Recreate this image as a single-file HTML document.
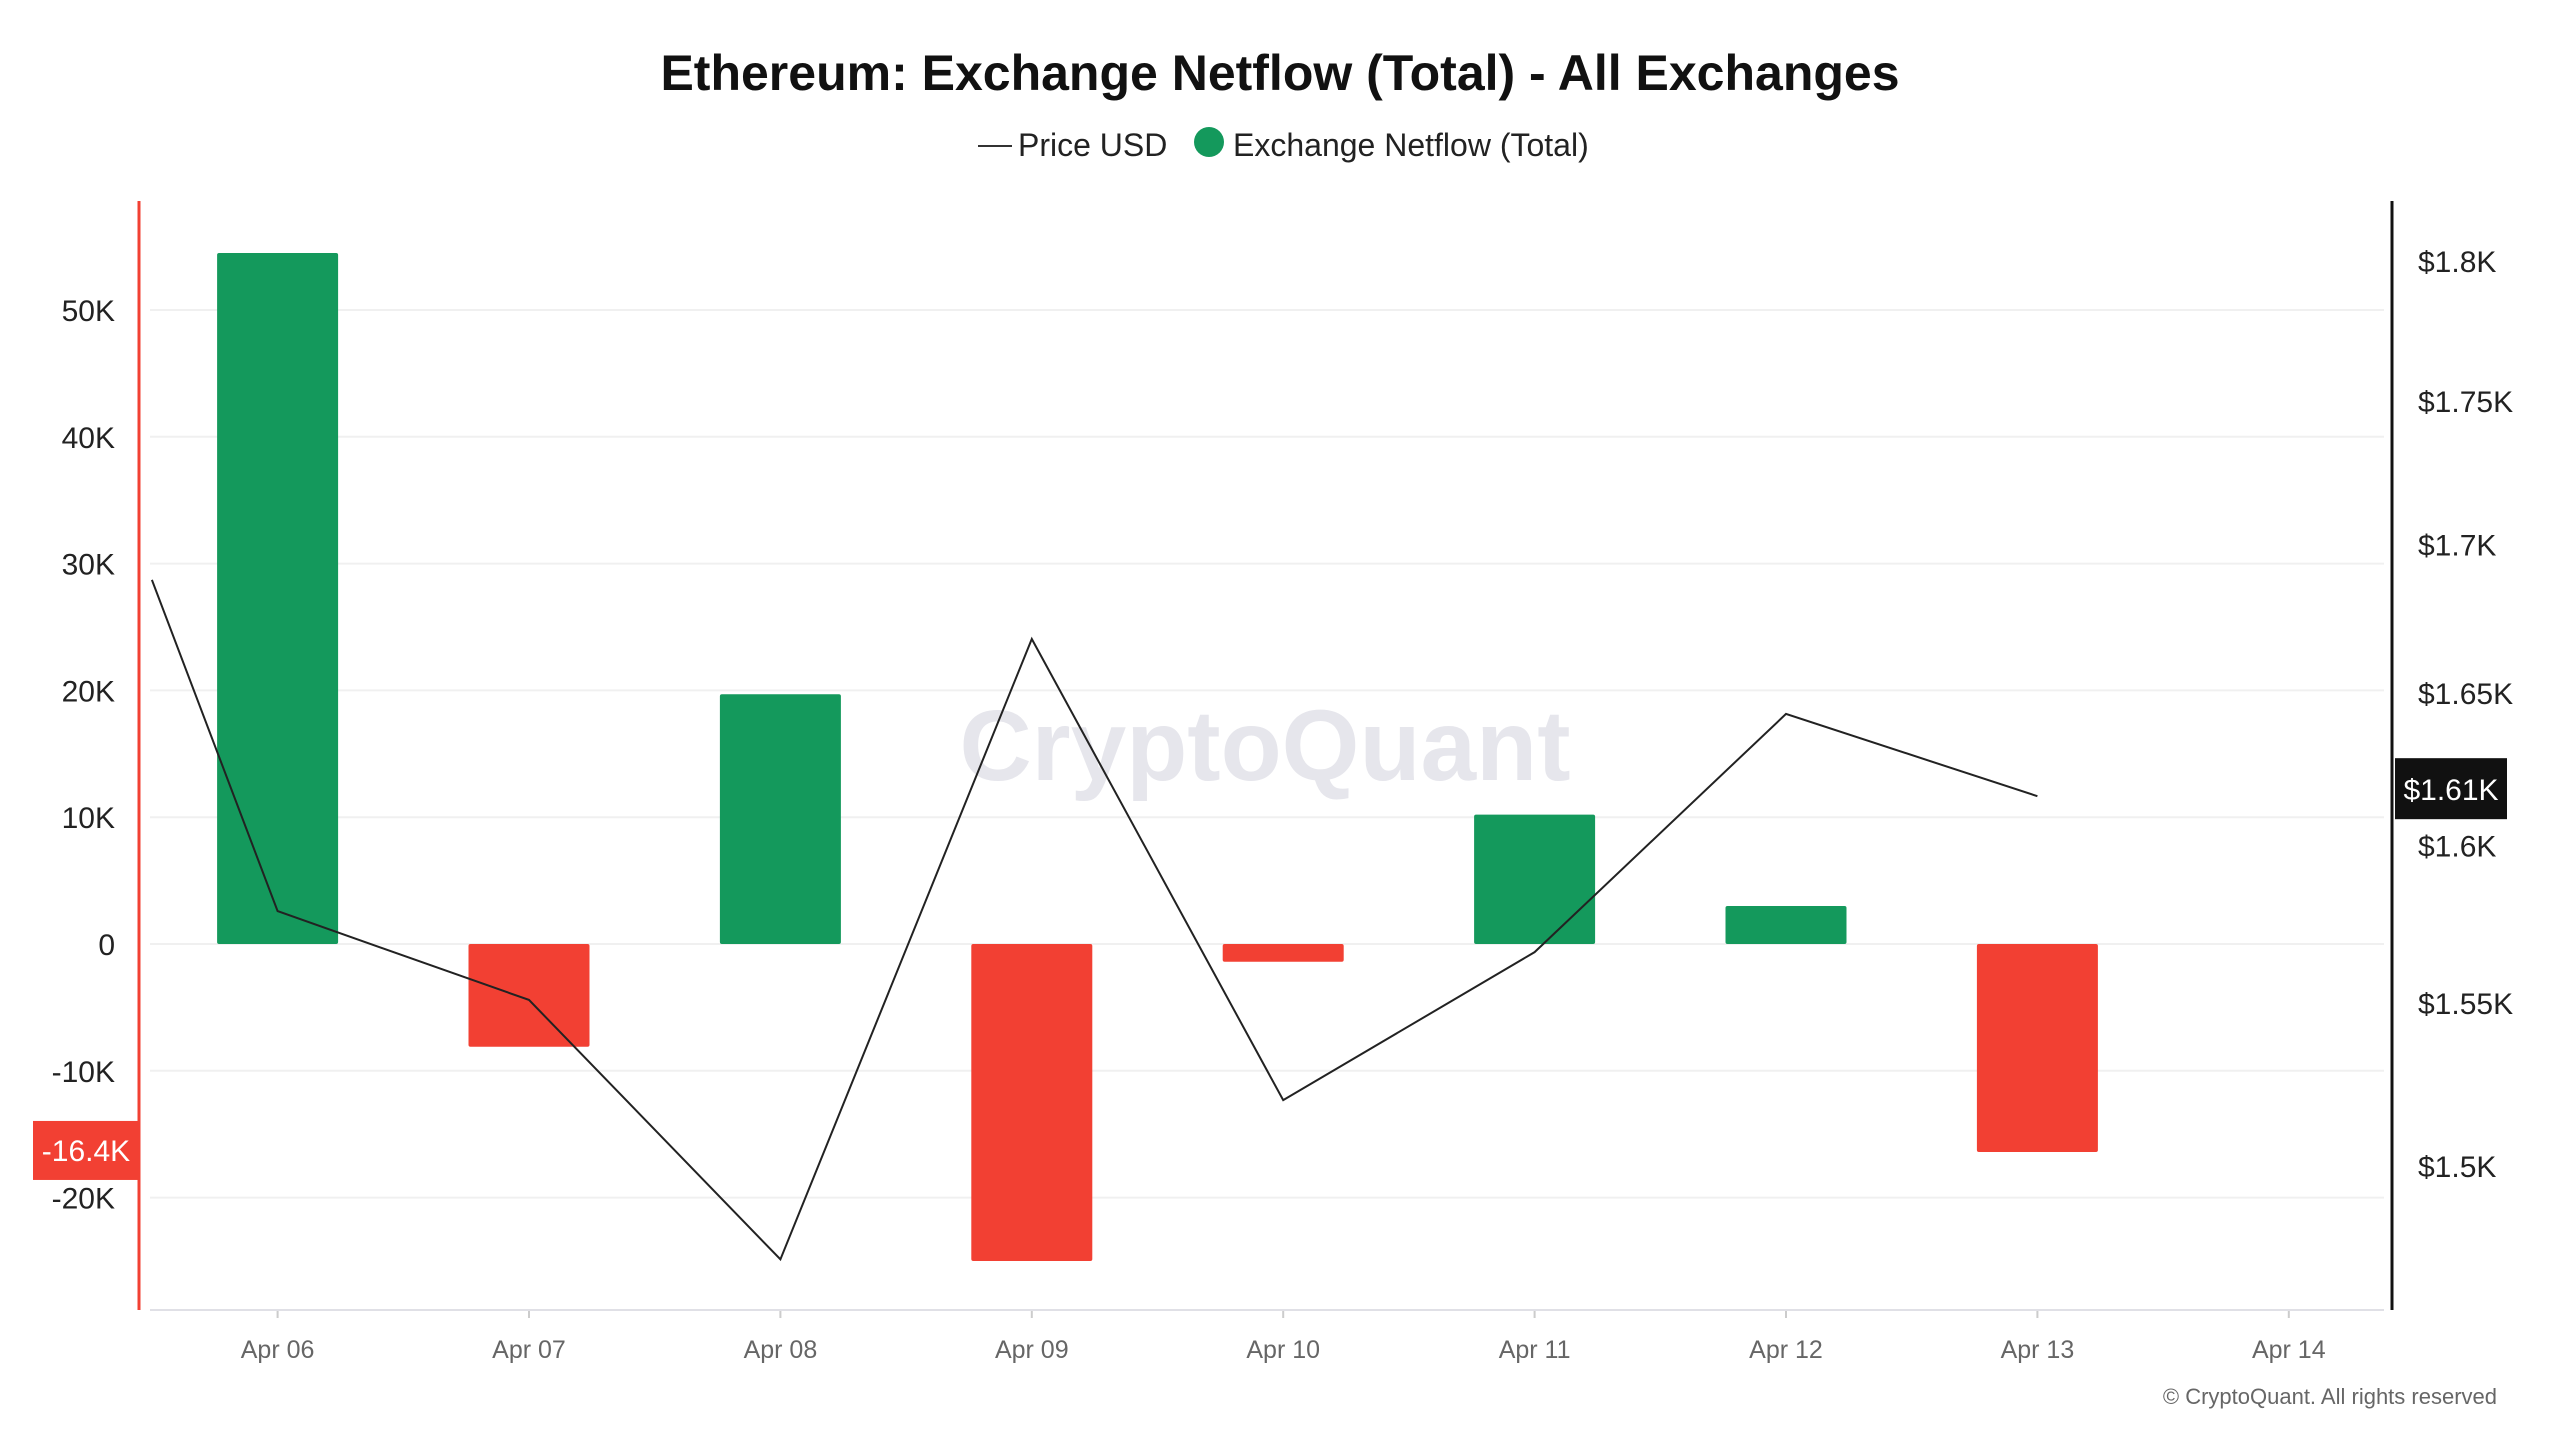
<!DOCTYPE html>
<html><head><meta charset="utf-8"><style>
body{margin:0;background:#fff;width:2560px;height:1440px;overflow:hidden;font-family:"Liberation Sans",sans-serif}
</style></head><body>
<svg id="chart" width="2560" height="1440" xmlns="http://www.w3.org/2000/svg" font-family="Liberation Sans, sans-serif">
<text x="1280" y="90" text-anchor="middle" font-size="50" font-weight="bold" fill="#111">Ethereum: Exchange Netflow (Total) - All Exchanges</text>
<g>
<line x1="978" y1="146" x2="1012" y2="146" stroke="#333" stroke-width="2"/>
<text x="1018" y="156" font-size="32" fill="#222">Price USD</text>
<circle cx="1209" cy="142" r="15" fill="#14995c"/>
<text x="1233" y="156" font-size="32" fill="#222">Exchange Netflow (Total)</text>
</g>
<text x="1265" y="780" text-anchor="middle" font-size="100" font-weight="bold" fill="#e6e6ec">CryptoQuant</text>
<g id="grid"></g><g id="bars"></g><g id="line"></g><g id="axes"></g>
<text x="2497" y="1404" text-anchor="end" font-size="22" fill="#666">© CryptoQuant. All rights reserved</text>
</svg>
<script>
const categories=["Apr 06","Apr 07","Apr 08","Apr 09","Apr 10","Apr 11","Apr 12","Apr 13","Apr 14"];
const netflow=[54500,-8100,19700,-25000,-1400,10200,3000,-16400];
const priceIdx=[-0.5,0,1,2,3,4,5,6,7];
const price=[1688,1579,1551,1472,1668,1520,1566,1643,1616];
const leftTicks=[50000,40000,30000,20000,10000,0,-10000,-20000];
const leftTickLabels=["50K","40K","30K","20K","10K","0","-10K","-20K"];
const rightTicks=[1800,1750,1700,1650,1600,1550,1500];
const rightTickLabels=["$1.8K","$1.75K","$1.7K","$1.65K","$1.6K","$1.55K","$1.5K"];
const lastNetLabel="-16.4K", lastPriceLabel="$1.61K";
const NS="http://www.w3.org/2000/svg";
const X=i=>277.6+i*251.4;
const YL=v=>944-v*0.01268;
const YR=p=>261+4963*Math.log(1800/p);
function mk(t,a,parent,txt){const e=document.createElementNS(NS,t);for(const k in a)e.setAttribute(k,a[k]);if(txt!==undefined)e.textContent=txt;document.getElementById(parent).appendChild(e);return e;}
const L=139,R=2392,T=201,B=1310;
leftTicks.forEach((v,i)=>{
 const g=mk('line',{x1:150,x2:R-8,y1:YL(v),y2:YL(v),stroke:'#f0f0f0','stroke-width':2},'grid');
 
 
 const t=mk('text',{x:115,y:YL(v)+11,'text-anchor':'end','font-size':30,fill:'#222'},'axes',leftTickLabels[i]);
 
 
});
rightTicks.forEach((p,i)=>{
 const t=mk('text',{x:2418,y:YR(p)+11,'font-size':30,fill:'#222'},'axes',rightTickLabels[i]);
 
 
});
categories.forEach((c,i)=>{
 const tk=mk('line',{x1:X(i),x2:X(i),y1:B,y2:B+8,stroke:'#ccc','stroke-width':2},'axes');
 
 
 const t=mk('text',{x:X(i),y:B+48,'text-anchor':'middle','font-size':25,fill:'#666'},'axes',c);
 
 
});
netflow.forEach((v,i)=>{
 const y0=YL(0),y1=YL(v);
 const r=mk('rect',{x:X(i)-60.5,y:Math.min(y0,y1),width:121,height:Math.abs(y1-y0),fill:v>=0?'#14995c':'#f24033',rx:2},'bars');
 
 
});
const pts=price.map((p,i)=>X(priceIdx[i])+','+YR(p)).join(' ');
const pl=mk('polyline',{points:pts,fill:'none',stroke:'#222','stroke-width':2},'line');


const bx=mk('line',{x1:150,x2:R-8,y1:B,y2:B,stroke:'#e0e0e6','stroke-width':2},'axes');


const la=mk('line',{x1:L,x2:L,y1:T,y2:B,stroke:'#f24033','stroke-width':3},'axes');


const ra=mk('line',{x1:R,x2:R,y1:T,y2:B,stroke:'#111','stroke-width':3},'axes');


const lv=netflow[netflow.length-1];
const lb=mk('rect',{x:33,y:YL(lv)-31,width:106,height:59,fill:'#f24033'},'axes');


const lt=mk('text',{x:86,y:YL(lv)+9,'text-anchor':'middle','font-size':30,fill:'#fff'},'axes',lastNetLabel);


const lp=price[price.length-1];
const pb=mk('rect',{x:2395,y:YR(lp)-38,width:112,height:61,fill:'#111'},'axes');


const pt=mk('text',{x:2451,y:YR(lp)+4,'text-anchor':'middle','font-size':30,fill:'#fff'},'axes',lastPriceLabel);


</script>
</body></html>
